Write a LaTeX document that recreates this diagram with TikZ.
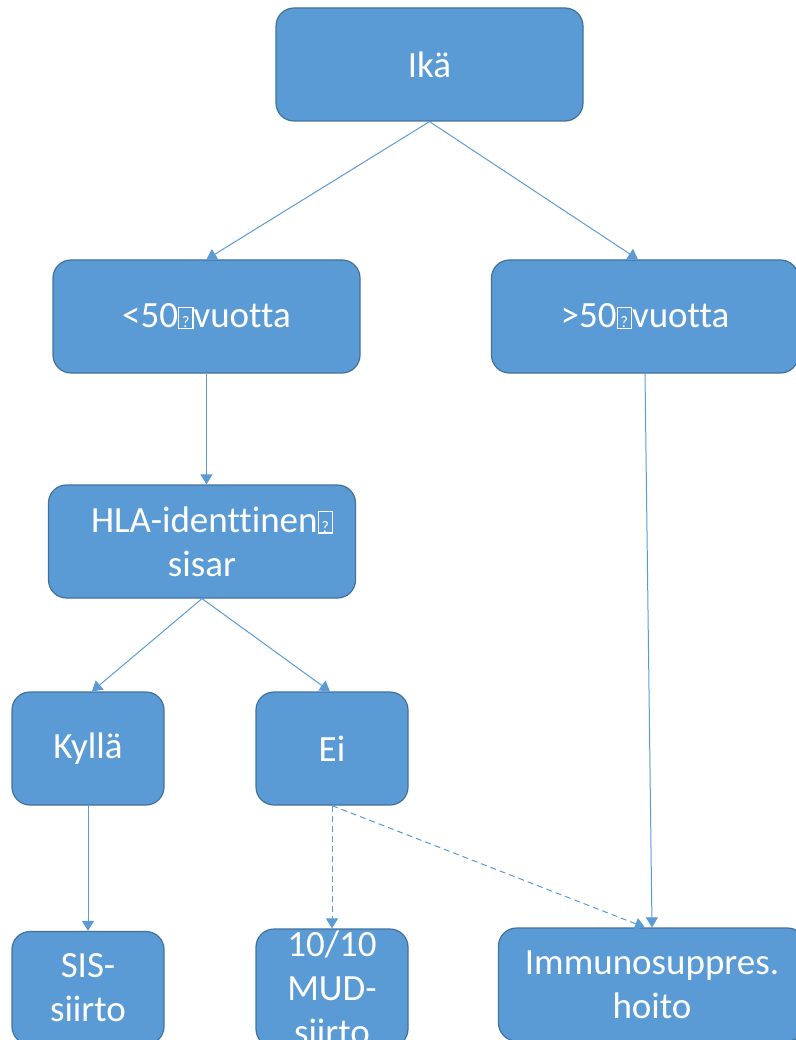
\documentclass[tikz,border=0pt]{standalone}
\usepackage{fontspec}
\setmainfont[Ligatures=NoCommon]{Carlito}
\usetikzlibrary{arrows.meta}
\definecolor{boxblue}{HTML}{5B9BD5}
\definecolor{boxline}{HTML}{41719C}
% missing-glyph box, as the picture prints it
\newcommand*{\tofu}{{\setlength{\fboxsep}{0pt}\setlength{\fboxrule}{1.2pt}%
  \fbox{\rule{0pt}{20pt}\makebox[13pt]{\fontsize{16}{16}\selectfont ?}}}}
\begin{document}
\begin{tikzpicture}[x=1pt,y=-1pt,
    box/.style={draw=boxline,line width=1.2pt,fill=boxblue,rounded corners=18pt,
      minimum width=307pt,minimum height=113pt,text=white,align=center,
      font=\fontsize{37}{44}\selectfont,inner sep=2pt},
    small/.style={box,minimum width=152pt},
    link/.style={draw=boxblue,line width=1pt,-{Triangle[length=10pt,width=12pt]}},
    maybe/.style={link,dashed,dash pattern=on 6pt off 4pt}]
  \useasboundingbox (0,0) rectangle (795,1040);
	\node[box]   (ika)   at (429.5,64.5)  {Ikä};
	\node[box]   (alle)  at (206.5,316.5) {<50\tofu vuotta};
	\node[box]   (yli)   at (645,316.5)   {>50\tofu vuotta};
	\node[box]   (hla)   at (202,541.5)   {\hspace*{20pt}HLA-identtinen\tofu\\sisar};
	\node[small] (kylla) at (88,748.5)    {Kyllä};
	\node[small] (ei)    at (332,748.5)   {Ei};
	\node[small] (sis)   at (88,988)      {SIS-\\siirto};
	\node[small] (mud)   at (332,988)     {10/10\\MUD-\\siirto};
	\node[box]   (immuno) at (652,984.5)  {Immunosuppres.\\hoito};
  \draw[link] (ika.south) -- (alle.north);
  \draw[link] (ika.south) -- ([xshift=-7pt]yli.north);
  \draw[link] (alle.south) -- ([xshift=4.5pt]hla.north);
  \draw[link] (yli.south) -- (immuno.north);
  \draw[link] (hla.south) -- ([xshift=4pt]kylla.north);
  \draw[link] (hla.south) -- ([xshift=-2pt]ei.north);
  \draw[link] (kylla.south) -- (sis.north);
  \draw[maybe] (ei.south) -- (mud.north);
  \draw[maybe] (ei.south) -- ([xshift=-7pt]immuno.north);
\end{tikzpicture}
\end{document}
